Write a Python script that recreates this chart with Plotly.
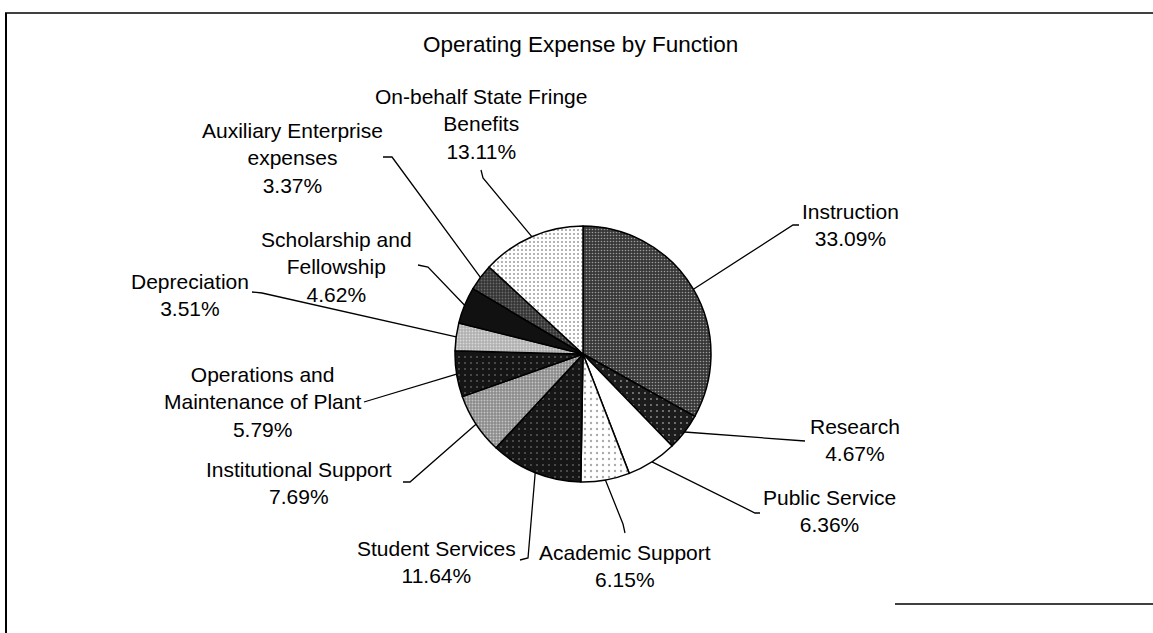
import numpy as np
import plotly.graph_objects as go

# ---------------- data ----------------
categories = [
    "Instruction", "Research", "Public Service", "Academic Support",
    "Student Services", "Institutional Support",
    "Operations and<br>Maintenance of Plant", "Depreciation",
    "Scholarship and<br>Fellowship", "Auxiliary Enterprise<br>expenses",
    "On-behalf State Fringe<br>Benefits",
]
percents = [33.09, 4.67, 6.36, 6.15, 11.64, 7.69, 5.79, 3.51, 4.62, 3.37, 13.11]
title_text = "Operating Expense by Function"

# ---------------- styles ----------------
slice_colors = ["#383838", "#1c1c1c", "#ffffff", "#ffffff", "#161616", "#8a8a8a",
                "#151515", "#b0b0b0", "#111111", "#333333", "#ffffff"]
pattern_shapes = [".", ".", "", ".", ".", ".", ".", ".", "", ".", "."]
pattern_fg = ["#ffffff", "#ffffff", "#000000", "#555555", "#ffffff", "#ffffff",
              "#ffffff", "#ffffff", "#ffffff", "#a0a0a0", "#444444"]
pattern_solidity = [0.22, 0.08, 0.1, 0.12, 0.06, 0.3, 0.06, 0.3, 0.1, 0.3, 0.22]
pattern_size = [3, 6, 6, 6, 6, 3, 6, 3, 6, 3, 4]

# ---------------- layout geometry (pixels) ----------------
W, H = 1153, 633
cx, cy, R = 583, 354, 128
# label text centres
label_pos = [(850, 225), (855, 440), (829, 511), (625, 566), (436, 562),
             (299, 483), (262, 402), (190, 295), (336, 267), (292, 158), (481, 124)]
# leader line elbow / end points (pixels)
leader_pts = [
    [(793, 225), (799, 225)],
    [(805, 441)],
    [(755, 513), (760, 513)],
    [(623, 524), (625, 533)],
    [(528, 558), (520, 560)],
    [(410, 482), (403, 482)],
    [(364, 402)],
    [(262, 293), (252, 292)],
    [(428, 267), (418, 265)],
    [(392, 157), (383, 157)],
    [(483, 178), (481, 170)],
]

fig = go.Figure()
fig.add_trace(go.Pie(
    labels=[c.replace("<br>", " ") for c in categories],
    values=percents,
    sort=False,
    direction="clockwise",
    rotation=0,
    textinfo="none",
    hoverinfo="label+percent",
    showlegend=False,
    marker=dict(
        colors=slice_colors,
        line=dict(color="#000000", width=1.5),
        pattern=dict(shape=pattern_shapes, fgcolor=pattern_fg,
                     solidity=pattern_solidity, size=pattern_size,
                     fillmode="overlay"),
    ),
    domain=dict(x=[(cx - R) / W, (cx + R) / W],
                y=[(H - cy - R) / H, (H - cy + R) / H]),
))

# leader lines starting at each slice's mid-angle on the rim
shapes = []
cum = np.cumsum([0] + percents[:-1])
total = sum(percents)
for i, v in enumerate(percents):
    mid = (cum[i] + v / 2) / total * 2 * np.pi
    sx = cx + R * np.sin(mid)
    sy = cy - R * np.cos(mid)
    pts = [(sx, sy)] + leader_pts[i]
    path = "M " + " L ".join(f"{x:.1f},{y:.1f}" for x, y in pts)
    shapes.append(dict(type="path", path=path, xref="x", yref="y",
                       line=dict(color="#000000", width=1.3)))

# frame lines
shapes += [
    dict(type="line", xref="x", yref="y", x0=5, y0=13, x1=W, y1=13,
         line=dict(color="#000000", width=1.5)),
    dict(type="line", xref="x", yref="y", x0=6, y0=13, x1=6, y1=H,
         line=dict(color="#000000", width=2)),
    dict(type="line", xref="x", yref="y", x0=895, y0=604, x1=W, y1=604,
         line=dict(color="#000000", width=1.5)),
]

annotations = [dict(x=580, y=44, xref="x", yref="y", text=title_text,
                    showarrow=False, xanchor="center", yanchor="middle",
                    font=dict(size=22.5, color="#000000"))]
for i, v in enumerate(percents):
    lx, ly = label_pos[i]
    annotations.append(dict(
        x=lx, y=ly, xref="x", yref="y",
        text=f"{categories[i]}<br>{v:.2f}%",
        showarrow=False, xanchor="center", yanchor="middle", align="center",
        font=dict(size=21, color="#000000"),
    ))

fig.update_layout(
    width=W, height=H,
    margin=dict(l=0, r=0, t=0, b=0),
    paper_bgcolor="#ffffff", plot_bgcolor="rgba(0,0,0,0)",
    font=dict(family="Liberation Sans, Arial, sans-serif", color="#000000"),
    xaxis=dict(range=[0, W], visible=False, fixedrange=True, domain=[0, 1]),
    yaxis=dict(range=[H, 0], visible=False, fixedrange=True, domain=[0, 1]),
    shapes=shapes,
    annotations=annotations,
)

fig.write_html("out.html", config={"displayModeBar": False},
               post_script="document.body.style.margin='0';"
                           "document.body.style.overflow='hidden';")
